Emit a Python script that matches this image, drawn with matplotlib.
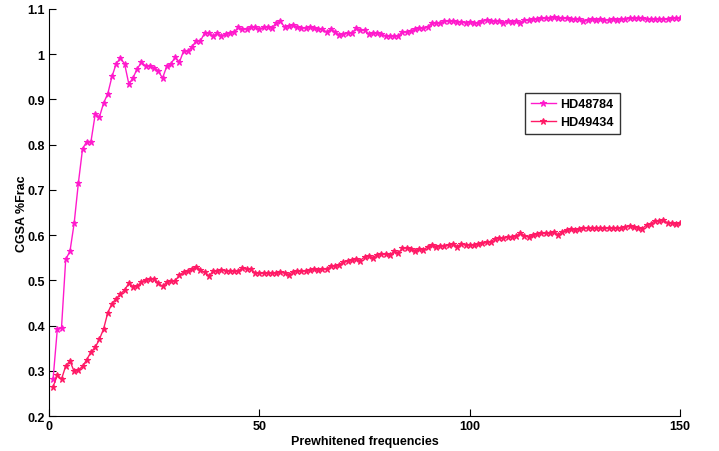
import numpy as np
import matplotlib
matplotlib.use('Agg')
import matplotlib.pyplot as plt

plt.rcParams['font.family'] = ['Liberation Sans', 'DejaVu Sans']

# 값은 그림에서 읽은 것 (x = 1..150)
freqs = np.arange(1, 151)

hd48784 = [
    0.283, 0.392, 0.396, 0.547, 0.564, 0.626, 0.715, 0.791, 0.807, 0.807,
    0.867, 0.861, 0.892, 0.913, 0.951, 0.979, 0.992, 0.978, 0.934, 0.948,
    0.968, 0.982, 0.974, 0.974, 0.970, 0.963, 0.947, 0.973, 0.979, 0.993,
    0.982, 1.007, 1.007, 1.016, 1.030, 1.029, 1.047, 1.047, 1.040, 1.046,
    1.041, 1.044, 1.047, 1.049, 1.059, 1.055, 1.056, 1.059, 1.059, 1.056,
    1.059, 1.061,
    1.058, 1.069, 1.073, 1.060, 1.063, 1.064, 1.060, 1.058, 1.058, 1.060,
    1.057, 1.055, 1.055, 1.049, 1.055, 1.049, 1.042, 1.044, 1.047, 1.047,
    1.057, 1.053, 1.053, 1.044, 1.046, 1.046, 1.045, 1.040, 1.040, 1.040,
    1.041, 1.049, 1.049, 1.051, 1.055, 1.057, 1.057, 1.060, 1.069, 1.069,
    1.069, 1.073, 1.073, 1.073, 1.072, 1.071, 1.070, 1.071,
    1.069, 1.070, 1.074, 1.075, 1.074, 1.073, 1.074, 1.070, 1.073, 1.072,
    1.073, 1.070, 1.075, 1.075, 1.077, 1.077, 1.079, 1.079, 1.080, 1.082,
    1.080, 1.080, 1.079, 1.077, 1.078, 1.077, 1.074, 1.075, 1.077, 1.076,
    1.077, 1.076, 1.076, 1.078, 1.076, 1.078, 1.078, 1.079, 1.079, 1.079,
    1.079, 1.077, 1.078, 1.078, 1.078, 1.078, 1.077, 1.079, 1.080, 1.080,
]

hd49434 = [
    0.265, 0.291, 0.282, 0.311, 0.322, 0.299, 0.302, 0.310, 0.325, 0.342,
    0.352, 0.370, 0.393, 0.429, 0.449, 0.460, 0.470, 0.479, 0.494, 0.486,
    0.488, 0.496, 0.502, 0.504, 0.504, 0.494, 0.487, 0.496, 0.499, 0.499,
    0.512, 0.518, 0.520, 0.525, 0.530, 0.523, 0.518, 0.510, 0.520, 0.521,
    0.524, 0.521, 0.521, 0.521, 0.521, 0.527, 0.525, 0.525, 0.516, 0.516,
    0.516, 0.516, 0.517, 0.517, 0.518, 0.517, 0.513, 0.519, 0.521, 0.520,
    0.521, 0.523, 0.525, 0.522, 0.526, 0.525, 0.532, 0.533, 0.535, 0.541,
    0.543, 0.546, 0.547, 0.544, 0.552, 0.554, 0.550, 0.557, 0.558, 0.558,
    0.556, 0.564, 0.561, 0.571, 0.572, 0.569, 0.566, 0.569, 0.568, 0.574,
    0.579, 0.575, 0.577, 0.577, 0.579, 0.581, 0.575, 0.580, 0.579, 0.578,
    0.579, 0.580, 0.582, 0.584, 0.586, 0.592, 0.594, 0.593, 0.597, 0.597,
    0.598, 0.604, 0.599, 0.597, 0.600, 0.603, 0.604, 0.604, 0.604, 0.606,
    0.601, 0.608, 0.611, 0.613, 0.612, 0.614, 0.616, 0.616, 0.616, 0.615,
    0.615, 0.615, 0.616, 0.615, 0.616, 0.616, 0.619, 0.620, 0.618, 0.617,
    0.614, 0.623, 0.625, 0.632, 0.632, 0.634, 0.627, 0.627, 0.624, 0.628,
]

names = ['HD48784', 'HD49434']
colors = ['#ff1acc', '#ff1a66']

fig = plt.figure(figsize=(7.19, 4.52), dpi=100)
ax = fig.add_axes([0.068, 0.077, 0.878, 0.901])

for vals, name, c in zip([hd48784, hd49434], names, colors):
    ax.plot(freqs, vals, color=c, lw=1.0, marker='*', ms=4.5, mew=0.8, label=name)

ax.set_xlim(0, 150)
ax.set_ylim(0.2, 1.1)
ax.set_xticks([0, 50, 100, 150])
ax.set_yticks([0.2, 0.3, 0.4, 0.5, 0.6, 0.7, 0.8, 0.9, 1.0, 1.1])
ax.set_yticklabels(['0.2', '0.3', '0.4', '0.5', '0.6', '0.7', '0.8', '0.9', '1', '1.1'])

for s in ['top', 'right']:
    ax.spines[s].set_visible(False)
ax.tick_params(direction='in', length=5, labelsize=9, pad=3)
for lab in ax.get_xticklabels() + ax.get_yticklabels():
    lab.set_fontweight('bold')

ax.set_xlabel('Prewhitened frequencies', fontsize=9, fontweight='bold', labelpad=2)
ax.set_ylabel('CGSA %Frac', fontsize=9, fontweight='bold', labelpad=-1)

leg = ax.legend(loc='upper left', bbox_to_anchor=(0.754, 0.794), borderaxespad=0,
                prop={'weight': 'bold', 'size': 9}, fancybox=False,
                handlelength=2.0, borderpad=0.45, labelspacing=0.45, handletextpad=0.4)
leg.get_frame().set_edgecolor('black')
leg.get_frame().set_linewidth(1.0)

fig.savefig('out.png', dpi=100)
